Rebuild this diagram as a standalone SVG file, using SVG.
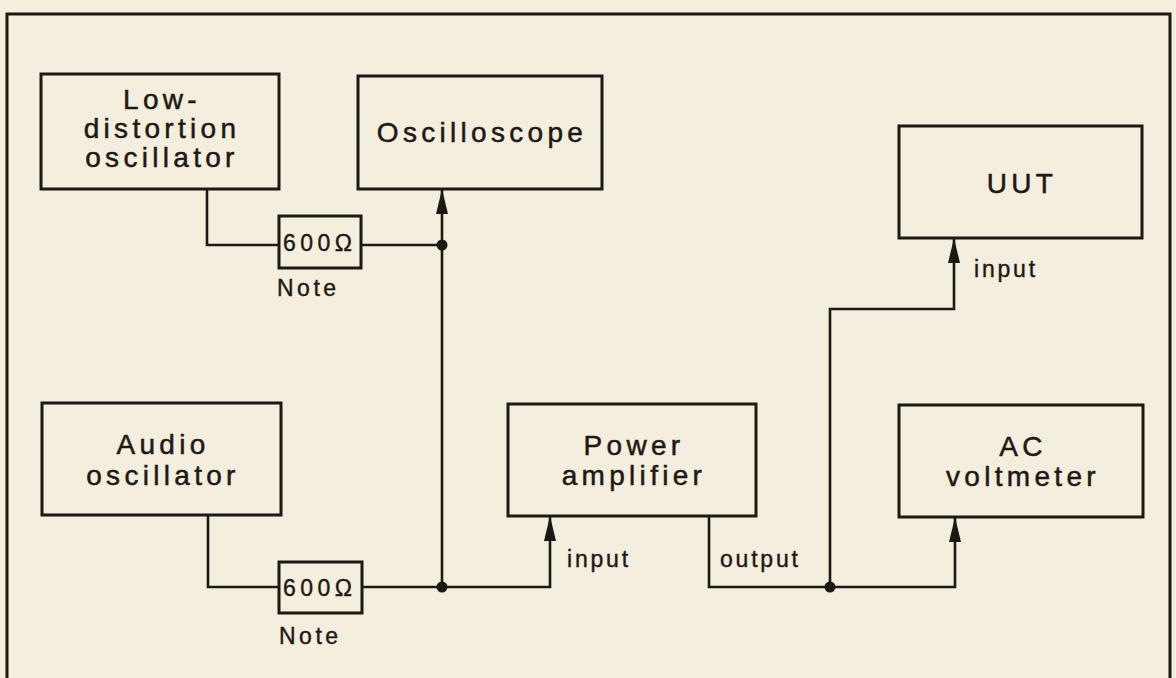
<svg xmlns="http://www.w3.org/2000/svg" width="1176" height="678" viewBox="0 0 1176 678">
<defs>
<style>
.bg{fill:#f3eedd}
.box{fill:none;stroke:#1e1814;stroke-width:3}
.ln{fill:none;stroke:#1e1814;stroke-width:2.6}
.lbl{font-family:"Liberation Sans",Arial,sans-serif;font-size:28px;letter-spacing:4.3px;fill:#1e1814;stroke:#1e1814;stroke-width:0.5;text-anchor:middle}
.sm{font-family:"Liberation Sans",Arial,sans-serif;font-size:23px;letter-spacing:2.8px;fill:#1e1814;stroke:#1e1814;stroke-width:0.4}
.dot{fill:#1e1814}
</style>
<marker id="arr" viewBox="0 0 25 13" refX="25" refY="6.5" markerWidth="25" markerHeight="13" markerUnits="userSpaceOnUse" orient="auto">
<path d="M0,0.5 L25,6.5 L0,12.5 z" fill="#1e1814"/>
</marker>
</defs>
<rect class="bg" x="0" y="0" width="1176" height="678"/>
<path id="frame" class="box" d="M7,678 V14 H1170 V678"/>

<g id="lowdist">
<rect class="box" x="41" y="74" width="238" height="115"/>
<text class="lbl" x="162" y="109">Low-</text>
<text class="lbl" x="162" y="138">distortion</text>
<text class="lbl" x="162" y="167">oscillator</text>
</g>
<g id="oscilloscope">
<rect class="box" x="358" y="76" width="244" height="113"/>
<text class="lbl" x="482" y="142">Oscilloscope</text>
</g>
<g id="uut">
<rect class="box" x="899" y="126" width="243" height="112"/>
<text class="lbl" x="1022" y="193">UUT</text>
</g>
<g id="audio">
<rect class="box" x="42" y="403" width="239" height="112"/>
<text class="lbl" x="163" y="454">Audio</text>
<text class="lbl" x="163" y="485">oscillator</text>
</g>
<g id="poweramp">
<rect class="box" x="508" y="404" width="248" height="112"/>
<text class="lbl" x="634" y="455">Power</text>
<text class="lbl" x="634" y="485">amplifier</text>
</g>
<g id="acvm">
<rect class="box" x="899" y="405" width="244" height="112"/>
<text class="lbl" x="1023" y="456">AC</text>
<text class="lbl" x="1023" y="486">voltmeter</text>
</g>
<g id="r1">
<rect class="box" x="279" y="216" width="82" height="52"/>
<text class="sm" x="283" y="251" style="letter-spacing:4.5px">600Ω</text>
<text class="sm" x="277" y="296" style="letter-spacing:3.5px">Note</text>
</g>
<g id="r2">
<rect class="box" x="279" y="562" width="83" height="51"/>
<text class="sm" x="283" y="596" style="letter-spacing:4.5px">600Ω</text>
<text class="sm" x="279" y="644" style="letter-spacing:3.5px">Note</text>
</g>

<g id="connectors">
<path class="ln" d="M207,189 V245 H279"/>
<path class="ln" d="M361,245 H442"/>
<path class="ln" d="M442,587 V189" marker-end="url(#arr)"/>
<path class="ln" d="M208,515 V587 H279"/>
<path class="ln" d="M362,587 H550 V516" marker-end="url(#arr)"/>
<path class="ln" d="M709,516 V587 H955 V517" marker-end="url(#arr)"/>
<path class="ln" d="M830,587 V309 H954 V238" marker-end="url(#arr)"/>
<circle class="dot" cx="442" cy="245" r="5.5"/>
<circle class="dot" cx="442" cy="587" r="5.5"/>
<circle class="dot" cx="830" cy="587" r="5.5"/>
<text class="sm" x="567" y="567">input</text>
<text class="sm" x="720" y="567">output</text>
<text class="sm" x="974" y="277">input</text>
</g>
</svg>
